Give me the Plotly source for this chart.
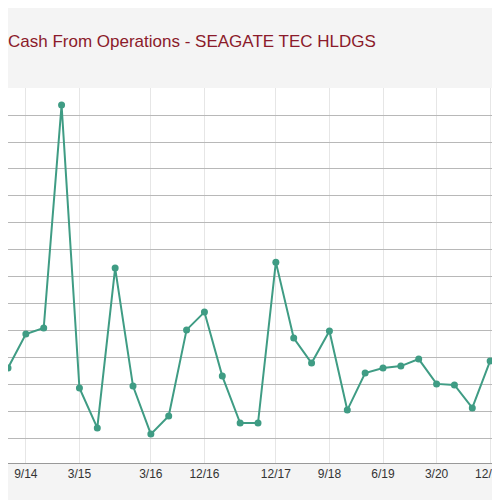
import plotly.graph_objects as go

# quarterly cash from operations (approx)
quarters = list(range(29))
cash_ops = [352, 478, 500, 1326, 278, 130, 722, 285, 107, 174, 493, 559, 322, 148, 148,
            744, 463, 370, 489, 196, 333, 352, 359, 385, 293, 289, 204, 378, 307]
tick_pos = [1, 4, 8, 11, 15, 18, 21, 24, 27]
tick_txt = ["9/14", "3/15", "3/16", "12/16", "12/17", "9/18", "6/19", "3/20", "12/20"]

fig = go.Figure(go.Scatter(
    x=quarters, y=cash_ops, mode="lines+markers",
    line=dict(color="#3f9c84", width=2),
    marker=dict(color="#3f9c84", size=7),
))

fig.update_layout(
    width=500, height=500,
    margin=dict(l=0, r=0, t=80, b=45),
    paper_bgcolor="#f4f4f4", plot_bgcolor="white",
    showlegend=False,
    title=dict(text="Cash From Operations - SEAGATE TEC HLDGS", x=0, xanchor="left",
               xref="paper", y=0.945,
               font=dict(family="Liberation Sans", size=17, color="#8b1a2a")),
    xaxis=dict(range=[0, 28], tickmode="array", tickvals=tick_pos, ticktext=tick_txt,
               showgrid=True, gridcolor="#e6e6e6", zeroline=False,
               tickfont=dict(family="Liberation Sans", size=12, color="#333"),
               showline=True, linecolor="#999"),
    yaxis=dict(range=[0, 1389], tick0=89, dtick=100, showticklabels=False,
               gridcolor="#b8b8b8", gridwidth=1, zeroline=False),
)

fig.write_html("out.html")
